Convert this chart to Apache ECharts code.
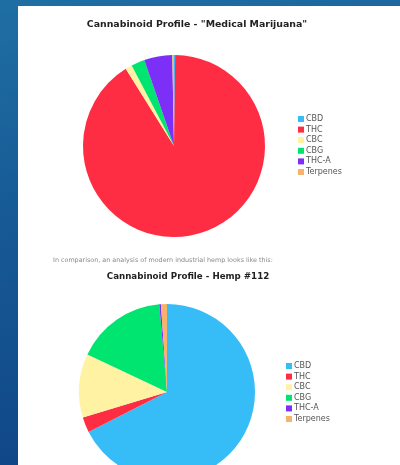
<!DOCTYPE html>
<html>
<head>
<meta charset="utf-8">
<script src="https://cdn.jsdelivr.net/npm/echarts@6/dist/echarts.min.js"></script>
<style>
html,body{margin:0;padding:0;width:400px;height:465px;overflow:hidden;}
body{background:linear-gradient(170deg,#1f6fa3 0%,#175a95 40%,#0f4285 100%);}
#panel{position:absolute;left:18px;top:6px;width:382px;height:459px;background:#fff;}
#chart{position:absolute;left:0;top:0;width:400px;height:465px;}
</style>
</head>
<body>
<div id="panel"></div>
<div id="chart"></div>
<script>
const categories = ['CBD', 'THC', 'CBC', 'CBG', 'THC-A', 'Terpenes'];
const colors = ['#36bcf7', '#ff2d44', '#fff3a3', '#00e470', '#7b2ff7', '#f7b26b'];
const medicalValues = [0.2, 90.9, 1.2, 2.4, 5.0, 0.3];
const hempValues = [67.5, 2.8, 11.7, 16.6, 0.3, 1.1];
const title1 = 'Cannabinoid Profile - "Medical Marijuana"';
const title2 = 'Cannabinoid Profile - Hemp #112';
const caption = 'In comparison, an analysis of modern industrial hemp looks like this:';

const font = '"DejaVu Sans", Verdana, sans-serif';
const chart = echarts.init(document.getElementById('chart'), null, {renderer: 'canvas'});
function toData(vals) {
  return categories.map((c, i) => ({name: c, value: vals[i]}));
}
const legendBase = {
  orient: 'vertical',
  padding: 0,
  itemWidth: 6,
  itemHeight: 6,
  itemGap: 2.6,
  icon: 'rect',
  textStyle: {fontSize: 8, fontFamily: font, color: '#555', padding: [0, 0, 0, -3]},
  data: categories,
  selectedMode: false
};
chart.setOption({
  backgroundColor: 'transparent',
  color: colors,
  animation: false,
  title: [
    {text: title1, left: 197, top: 20.5, padding: 0, textAlign: 'center',
     textStyle: {fontSize: 9.4, fontWeight: 'bold', fontFamily: font, color: '#222'}},
    {text: caption, left: 53, top: 257.5, padding: 0,
     textStyle: {fontSize: 6.4, fontWeight: 'normal', fontFamily: font, color: '#888'}},
    {text: title2, left: 188, top: 272.5, padding: 0, textAlign: 'center',
     textStyle: {fontSize: 8.7, fontWeight: 'bold', fontFamily: font, color: '#222'}}
  ],
  legend: [
    Object.assign({}, legendBase, {left: 298, top: 115}),
    Object.assign({}, legendBase, {left: 286, top: 362})
  ],
  series: [
    {type: 'pie', center: [174, 146], radius: [0, 91], startAngle: 90, clockwise: true,
     label: {show: false}, labelLine: {show: false}, silent: true,
     itemStyle: {borderWidth: 0}, data: toData(medicalValues)},
    {type: 'pie', center: [167, 392], radius: [0, 88], startAngle: 90, clockwise: true,
     label: {show: false}, labelLine: {show: false}, silent: true,
     itemStyle: {borderWidth: 0}, data: toData(hempValues)}
  ]
});
</script>
</body>
</html>
